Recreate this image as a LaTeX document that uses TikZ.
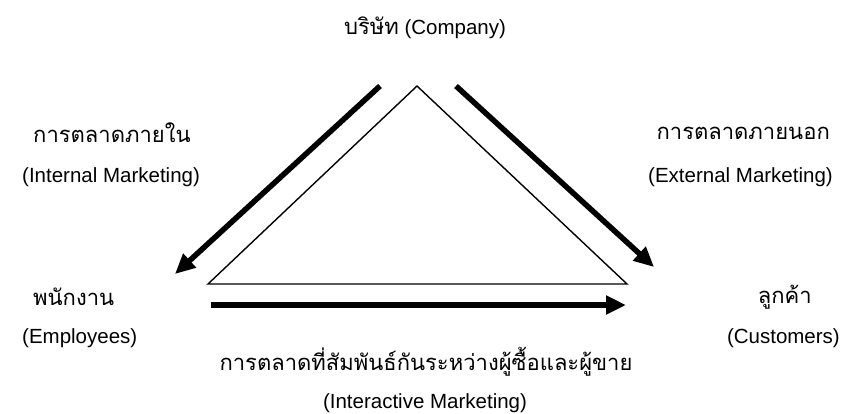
\documentclass[tikz,border=0pt]{standalone}
\usepackage{fontspec}
\setmainfont{Liberation Sans}
\newfontfamily\thai[Script=Thai]{Loma}
\usetikzlibrary{arrows.meta}
\begin{document}
\begin{tikzpicture}[x=1pt,y=-1pt,
  lbl/.style={inner sep=0pt, font=\fontsize{20.5}{24}\selectfont},
  thlbl/.style={inner sep=0pt, font=\fontsize{22}{26}\selectfont\thai},
  bigarrow/.style={line width=5.5pt, -{Triangle[length=20pt,width=18pt]}},
  tri/.style={line width=1.4pt, line join=miter}]
\useasboundingbox (0,0) rectangle (848,413);
% labels
\node[inner sep=0pt] (company) at (425,28) {{\fontsize{22}{26}\selectfont\thai บริษัท}{\fontsize{20.5}{24}\selectfont\ (Company)}};
\node[thlbl, anchor=west] (intth) at (33,133) {การตลาดภายใน};
\node[lbl, anchor=west] (inten) at (22,177) {(Internal Marketing)};
\node[thlbl, anchor=east] (extth) at (830,133) {การตลาดภายนอก};
\node[lbl, anchor=east] (exten) at (833,177) {(External Marketing)};
\node[thlbl, anchor=west] (empth) at (33,297) {พนักงาน};
\node[lbl, anchor=west] (empen) at (22,338) {(Employees)};
\node[thlbl, anchor=east] (custth) at (812,297) {ลูกค้า};
\node[lbl, anchor=east] (custen) at (840,338) {(Customers)};
\node[thlbl] (interth) at (426,362) {การตลาดที่สัมพันธ์กันระหว่างผู้ซื้อและผู้ขาย};
\node[lbl] (interen) at (425,403) {(Interactive Marketing)};
% triangle
\coordinate (apex) at (417,86);
\coordinate (bl) at (208,284);
\coordinate (br) at (627,284);
\draw[tri] (apex) -- (bl) -- (br) -- cycle;
% arrows
\coordinate (la) at (380,86);
\coordinate (lb) at (175,274);
\coordinate (ra) at (456,86);
\coordinate (rb) at (654,267);
\coordinate (ba) at (211,305);
\coordinate (bb) at (626,305);
\draw[bigarrow] (la) -- (lb);
\draw[bigarrow] (ra) -- (rb);
\draw[bigarrow] (ba) -- (bb);
\end{tikzpicture}
\end{document}
